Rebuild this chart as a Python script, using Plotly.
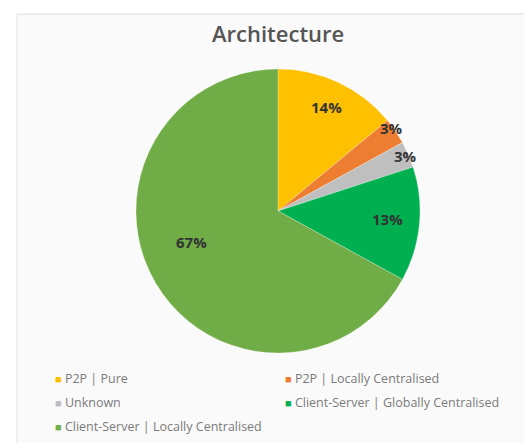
import math
import plotly.graph_objects as go

# Architecture breakdown
categories = [
    "P2P | Pure",
    "P2P | Locally Centralised",
    "Unknown",
    "Client-Server | Globally Centralised",
    "Client-Server | Locally Centralised",
]
shares = [14, 3, 3, 13, 67]
slice_colors = ["#FFC000", "#ED7D31", "#BFBFBF", "#00B050", "#70AD47"]
# label placement per slice: radius fraction and angular nudge (degrees)
label_radius = [0.81, 0.99, 0.98, 0.77, 0.65]
label_nudge = [0, -2, 0, -1, 11]

W, H = 524, 443
cx, cy, R = 278, 211, 142  # pie centre / radius in pixels

fig = go.Figure()
fig.add_trace(go.Pie(
    labels=categories,
    values=shares,
    sort=False,
    direction="clockwise",
    rotation=0,
    marker=dict(colors=slice_colors, line=dict(color="rgba(255,255,255,0.5)", width=0.5)),
    textinfo="none",
    hoverinfo="label+percent",
    showlegend=False,
    domain=dict(x=[(cx - R) / W, (cx + R) / W], y=[1 - (cy + R) / H, 1 - (cy - R) / H]),
))

annotations = []

# data labels at each slice's mid angle
total = sum(shares)
cum = 0
for v, rf, nudge in zip(shares, label_radius, label_nudge):
    mid = math.radians((cum + v / 2) / total * 360 + nudge)
    cum += v
    px = cx + rf * R * math.sin(mid)
    py = cy - rf * R * math.cos(mid)
    annotations.append(dict(
        x=px / W, y=1 - py / H, xref="paper", yref="paper",
        xanchor="center", yanchor="middle",
        text=f"<b>{round(v / total * 100)}%</b>", showarrow=False,
        font=dict(family="Open Sans", size=15, color="#333333"),
    ))

# title
annotations.append(dict(
    x=cx / W, y=1 - 33 / H, xref="paper", yref="paper", text="Architecture",
    xanchor="center", yanchor="middle",
    showarrow=False, font=dict(family="Open Sans", size=22, color="#555555", weight=600),
))

# legend laid out as a two-column grid of coloured squares and names
col_x = [53, 283]
row_y = [378, 402, 426]
for i, (name, col) in enumerate(zip(categories, slice_colors)):
    lx = col_x[i % 2]
    ly = row_y[i // 2]
    annotations.append(dict(
        x=lx / W, y=1 - ly / H, xref="paper", yref="paper",
        xanchor="left", yanchor="middle", showarrow=False,
        text=f"<span style='color:{col};font-size:11px'>■</span> {name}",
        font=dict(family="Open Sans", size=12.5, color="#7a7a7a"),
    ))

fig.update_layout(
    width=W, height=H,
    margin=dict(l=0, r=0, t=0, b=0),
    paper_bgcolor="white",
    plot_bgcolor="white",
    showlegend=False,
    annotations=annotations,
    shapes=[dict(
        type="rect", xref="paper", yref="paper",
        x0=17 / W, x1=1.02, y0=-0.02, y1=1 - 14 / H,
        fillcolor="#fafafa", line=dict(color="#e2e2e2", width=1), layer="below",
    )],
)

fig.write_html("out.html")
